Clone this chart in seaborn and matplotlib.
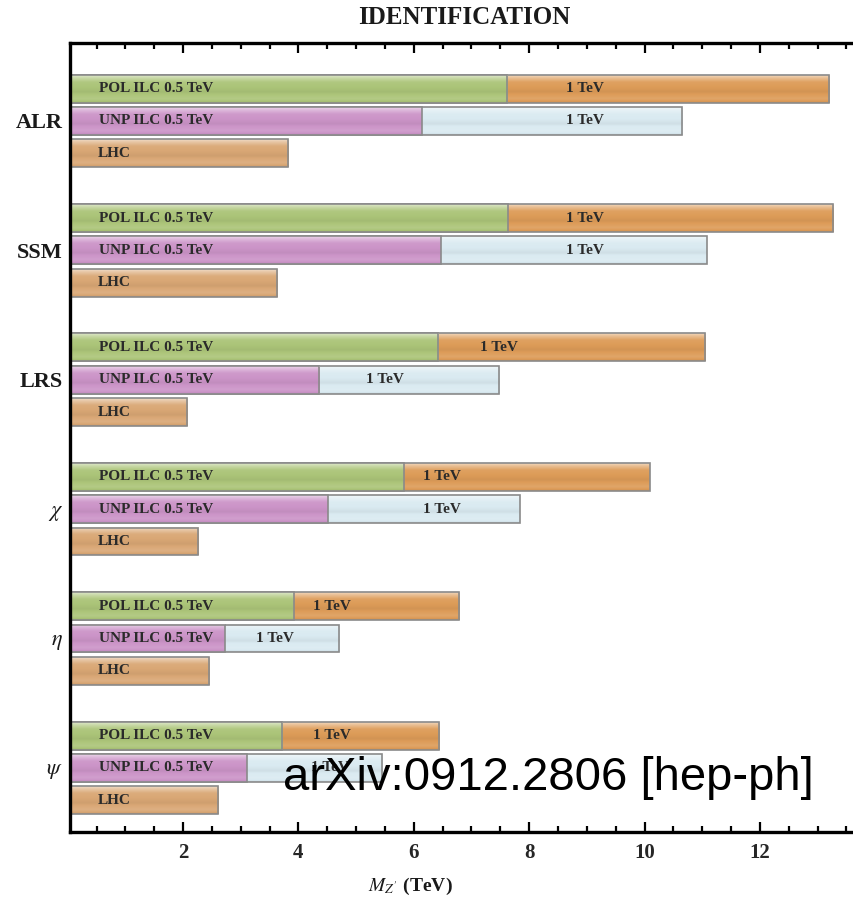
import numpy as np
import pandas as pd
import matplotlib
matplotlib.use("Agg")
import matplotlib.pyplot as plt
import seaborn as sns
from matplotlib.ticker import MultipleLocator

# Z' identification reach (TeV) for each model
models = ["ALR", "SSM", "LRS", r"$\chi$", r"$\eta$", r"$\psi$"]
pol_05 = [7.62, 7.63, 6.42, 5.83, 3.92, 3.72]    # polarised ILC, 0.5 TeV
pol_1 = [13.20, 13.27, 11.05, 10.09, 6.79, 6.44]  # polarised ILC, 1 TeV
unp_05 = [6.14, 6.47, 4.36, 4.51, 2.72, 3.10]    # unpolarised ILC, 0.5 TeV
unp_1 = [10.65, 11.08, 7.48, 7.84, 4.71, 5.45]   # unpolarised ILC, 1 TeV
lhc = [3.82, 3.63, 2.07, 2.26, 2.45, 2.61]       # LHC

# where the "1 TeV" captions sit along each bar (TeV)
tev1_text_pol = [8.97, 8.97, 7.48, 6.49, 4.58, 4.58]
tev1_text_unp = [8.97, 8.97, 5.50, 6.49, 3.59, 4.55]

palette = {
    "POL 0.5 TeV": "#b0d16c",
    "POL 1 TeV": "#f39c42",
    "UNP 0.5 TeV": "#d58bd0",
    "UNP 1 TeV": "#d6ecf5",
    "LHC": "#eaa764",
}

sns.set_style("ticks")
plt.rcParams["font.family"] = ["Liberation Serif", "DejaVu Serif"]
plt.rcParams["mathtext.fontset"] = "stix"

n = len(models)
base = np.arange(n) * 4.0

back = pd.DataFrame({
    "y": np.concatenate([base - 1, base, base + 1]),
    "mass": pol_1 + unp_1 + lhc,
    "series": ["POL 1 TeV"] * n + ["UNP 1 TeV"] * n + ["LHC"] * n,
})
front = pd.DataFrame({
    "y": np.concatenate([base - 1, base]),
    "mass": pol_05 + unp_05,
    "series": ["POL 0.5 TeV"] * n + ["UNP 0.5 TeV"] * n,
})

fig = plt.figure(figsize=(8.54, 9.05), dpi=100)
ax = fig.add_axes([70 / 854, 73 / 905, 792 / 854, 789 / 905])

edge = "#8a8a8a"
sns.barplot(data=back, x="mass", y="y", hue="series", palette=palette,
            orient="h", native_scale=True, dodge=False, width=0.86,
            errorbar=None, legend=False, edgecolor=edge, linewidth=1.2, ax=ax)
n_back = len(ax.patches)
sns.barplot(data=front, x="mass", y="y", hue="series", palette=palette,
            orient="h", native_scale=True, dodge=False, width=0.86,
            errorbar=None, legend=False, edgecolor=edge, linewidth=1.2, ax=ax)
patches = list(ax.patches)


def glossy(patch, z):
    """Fill a bar with a soft vertical shading of its own colour."""
    c = np.array(patch.get_facecolor()[:3])
    pos = [0.0, 0.10, 0.25, 0.6, 0.85, 1.0]
    amt = [0.60, 0.35, 0.05, -0.05, 0.10, -0.08]
    t = np.linspace(0, 1, 64)
    f = np.interp(t, pos, amt)[:, None]
    rows = np.where(f >= 0, c + (1 - c) * f, c * (1 + f))
    x0, w = patch.get_x(), patch.get_width()
    y0, h = patch.get_y(), patch.get_height()
    ax.imshow(rows[:, None, :], extent=(x0, x0 + w, y0 + h, y0), origin="upper",
              aspect="auto", interpolation="bilinear", zorder=z)
    patch.set_facecolor("none")
    patch.set_zorder(z + 0.05)


for p in patches[:n_back]:
    glossy(p, 1.0)
for p in patches[n_back:]:
    glossy(p, 1.2)

txt = dict(fontsize=11, fontweight="bold", color="#2a2a2a", va="center", zorder=3)
for i, g in enumerate(base):
    ax.text(0.54, g - 1, "POL ILC 0.5 TeV", ha="left", **txt)
    ax.text(0.54, g, "UNP ILC 0.5 TeV", ha="left", **txt)
    ax.text(0.53, g + 1, "LHC", ha="left", **txt)
    ax.text(tev1_text_pol[i], g - 1, "1 TeV", ha="center", **txt)
    ax.text(tev1_text_unp[i], g, "1 TeV", ha="center", **txt)

ax.set_xlim(0.04, 13.77)
ax.set_ylim(21.98, -2.41)

ax.xaxis.set_major_locator(MultipleLocator(2))
ax.xaxis.set_minor_locator(MultipleLocator(0.5))
ax.tick_params(axis="x", which="both", direction="in", top=True, bottom=True,
               width=1.6, color="black")
ax.tick_params(axis="x", which="major", length=7, pad=8, labelsize=15)
ax.tick_params(axis="x", which="minor", length=4)
for lab in ax.get_xticklabels():
    lab.set_fontweight("bold")

ax.set_yticks(base)
ax.set_yticklabels(models)
ax.tick_params(axis="y", which="major", direction="in", length=4, width=1.6,
               pad=5, labelsize=16, left=True)
for lab in ax.get_yticklabels():
    lab.set_fontweight("bold")
    lab.set_color("#1a1a1a")

ax.set_xlabel("")
ax.set_ylabel("")
for s in ax.spines.values():
    s.set_linewidth(2.4)
    s.set_color("black")

fig.text(464 / 854, 1 - 18 / 905, "IDENTIFICATION", ha="center", va="center",
         fontsize=18, fontweight="bold", color="#1a1a1a")
fig.text(410 / 854, 1 - 886 / 905, r"$M_{Z'}$ (TeV)", ha="center", va="center",
         fontsize=14, fontweight="bold", color="#1a1a1a")
fig.text(283 / 854, 1 - 790 / 905, "arXiv:0912.2806 [hep-ph]", ha="left",
         va="baseline", fontsize=34, family="Liberation Sans", color="black",
         zorder=5)

fig.savefig("out.png", dpi=100)
